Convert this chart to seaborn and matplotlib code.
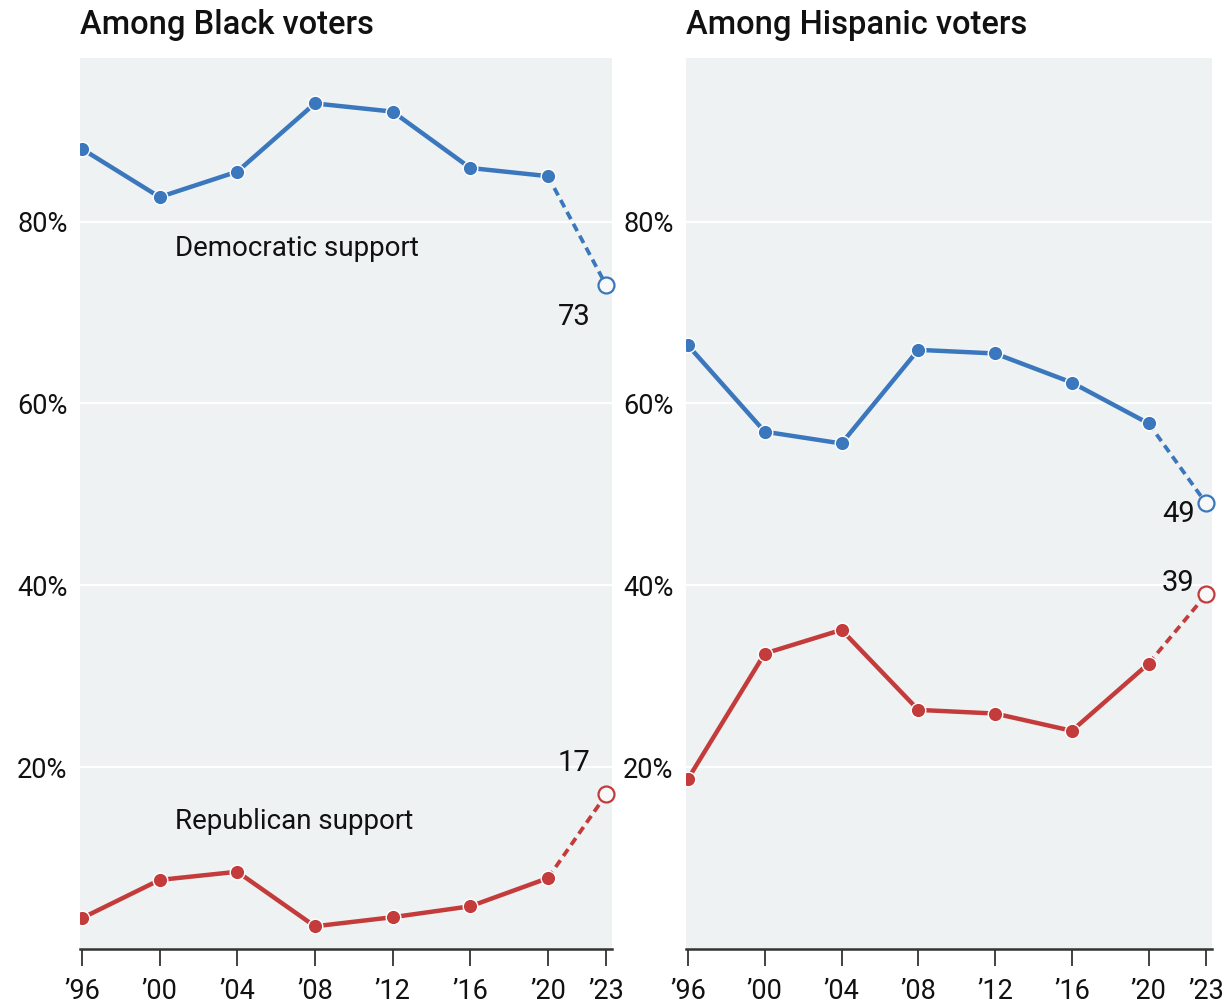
import matplotlib
matplotlib.use("Agg")
import matplotlib.pyplot as plt
import seaborn as sns

# Survey years and tick labels
years = [1996, 2000, 2004, 2008, 2012, 2016, 2020, 2023]
year_labels = ["\u201996", "\u201900", "\u201904", "\u201908", "\u201912", "\u201916", "\u201920", "\u201923"]

# Support among Black voters (%)
black_dem = [88, 82.7, 85.5, 93, 92.1, 85.9, 85, 73]
black_rep = [3.4, 7.6, 8.5, 2.5, 3.5, 4.7, 7.8, 17]

# Support among Hispanic voters (%)
hisp_dem = [66.4, 56.9, 55.6, 65.9, 65.5, 62.3, 57.8, 49]
hisp_rep = [18.7, 32.5, 35.1, 26.3, 25.9, 24.0, 31.4, 39]

y_ticks = [20, 40, 60, 80]
y_tick_labels = ["20%", "40%", "60%", "80%"]

BLUE = "#3a77bd"
RED = "#c43b3b"
BG = "#eff2f3"
TEXT = "#111111"

sns.set_theme(style="white")
plt.rcParams["font.family"] = ["Roboto", "DejaVu Sans"]

fig = plt.figure(figsize=(12.25, 10.08), dpi=100)
ax1 = fig.add_axes([0.0653, 0.0585, 0.4343, 0.884])
ax2 = fig.add_axes([0.5600, 0.0585, 0.4294, 0.884])


def draw_series(ax, vals, color):
    # solid line through the election years
    sns.lineplot(x=years[:-1], y=vals[:-1], ax=ax, color=color, lw=3.2,
                 marker="o", markersize=10.5, markeredgecolor="white",
                 markeredgewidth=1, zorder=3)
    # dashed segment to the latest poll
    sns.lineplot(x=years[-2:], y=vals[-2:], ax=ax, color=color, lw=2.7,
                 linestyle=(0, (2.2, 1.4)), zorder=2)
    ax.plot(years[-1], vals[-1], marker="o", markersize=11.5,
            markerfacecolor="#f8f8f8", markeredgecolor=color,
            markeredgewidth=1.6, zorder=4, clip_on=False)


def style_axes(ax, title):
    ax.set_facecolor(BG)
    ax.set_xlim(1995.9, 2023.3)
    ax.set_ylim(0, 98)
    for s in ["top", "right", "left"]:
        ax.spines[s].set_visible(False)
    ax.spines["bottom"].set_color("#333333")
    ax.spines["bottom"].set_linewidth(1.8)
    ax.set_xticks(years)
    ax.set_xticklabels(year_labels)
    ax.set_yticks(y_ticks)
    ax.set_yticklabels(y_tick_labels)
    ax.tick_params(axis="x", bottom=True, length=12, width=1.3,
                   color="#333333", pad=9, labelsize=19.5, labelcolor=TEXT)
    ax.tick_params(axis="y", left=False, length=0, pad=9, labelsize=19.5,
                   labelcolor=TEXT)
    ax.grid(axis="y", color="white", lw=1.6)
    ax.grid(axis="x", visible=False)
    ax.set_axisbelow(True)
    ax.set_xlabel("")
    ax.set_ylabel("")
    ax.set_title(title, loc="left", fontsize=23.5, fontweight="medium",
                 color=TEXT, pad=17)


style_axes(ax1, "Among Black voters")
style_axes(ax2, "Among Hispanic voters")

draw_series(ax1, black_dem, BLUE)
draw_series(ax1, black_rep, RED)
draw_series(ax2, hisp_dem, BLUE)
draw_series(ax2, hisp_rep, RED)

ax1.text(2000.8, 77, "Democratic support", fontsize=20, color=TEXT, va="center")
ax1.text(2000.8, 14, "Republican support", fontsize=20, color=TEXT, va="center")

ax1.text(years[-1] - 0.8, black_dem[-1] - 3.5, f"{black_dem[-1]:.0f}",
         fontsize=21, color=TEXT, ha="right", va="center")
ax1.text(years[-1] - 0.8, black_rep[-1] + 3.5, f"{black_rep[-1]:.0f}",
         fontsize=21, color=TEXT, ha="right", va="center")
ax2.text(years[-1] - 0.6, hisp_dem[-1] - 1.2, f"{hisp_dem[-1]:.0f}",
         fontsize=21, color=TEXT, ha="right", va="center")
ax2.text(years[-1] - 0.6, hisp_rep[-1] + 1.3, f"{hisp_rep[-1]:.0f}",
         fontsize=21, color=TEXT, ha="right", va="center")

fig.savefig("out.png", dpi=100)
